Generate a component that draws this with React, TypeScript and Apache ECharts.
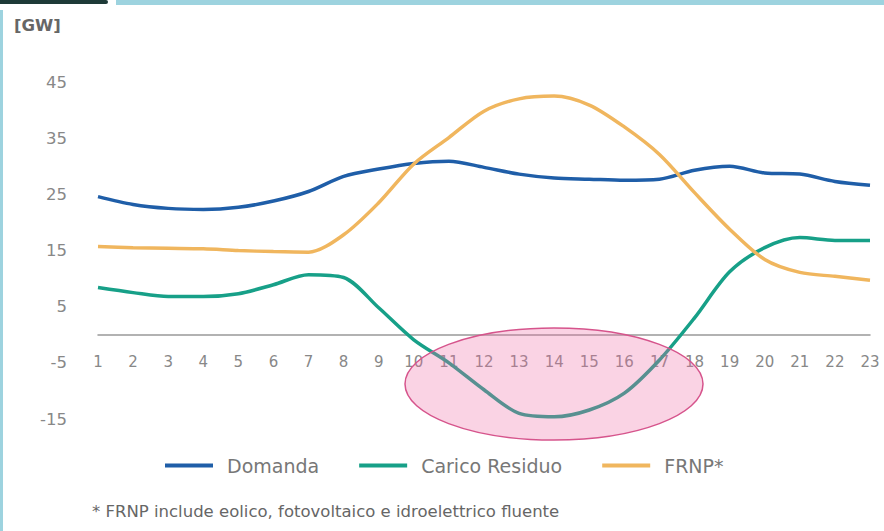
import React, { useEffect, useRef } from "react";
import * as echarts from "echarts";

const hours = ["1","2","3","4","5","6","7","8","9","10","11","12","13","14","15","16","17","18","19","20","21","22","23"];
const domanda = [24.6, 23.2, 22.5, 22.3, 22.7, 23.8, 25.5, 28.2, 29.5, 30.5, 30.9, 29.8, 28.6, 27.9, 27.7, 27.5, 27.7, 29.3, 30.0, 28.8, 28.6, 27.3, 26.6];
const caricoResiduo = [8.4, 7.5, 6.8, 6.8, 7.3, 8.9, 10.7, 10.2, 4.8, -0.9, -5.0, -9.8, -14.0, -14.6, -13.4, -10.4, -4.5, 3.0, 11.2, 15.5, 17.3, 16.8, 16.8];
const frnp = [15.7, 15.5, 15.4, 15.3, 15.0, 14.8, 14.7, 17.8, 23.5, 30.4, 35.1, 39.8, 42.0, 42.5, 40.9, 37.0, 32.1, 25.3, 18.8, 13.4, 11.1, 10.4, 9.7];
const seriesNames = ["Domanda", "Carico Residuo", "FRNP*"];
const unitLabel = "[GW]";
const footnote = "* FRNP include eolico, fotovoltaico e idroelettrico fluente";

const FONT = "'DejaVu Sans', sans-serif";

export default function App() {
  const ref = useRef<HTMLDivElement>(null);
  useEffect(() => {
    if (!ref.current) return;
    const chart = echarts.init(ref.current, null, { renderer: "svg" });
    chart.setOption({
      animation: false,
      backgroundColor: "#ffffff",
      textStyle: { fontFamily: FONT },
      grid: { left: 98, right: 14, top: 82, bottom: 112, containLabel: false },
      legend: {
        data: seriesNames,
        left: 160,
        top: 451,
        itemWidth: 48,
        itemHeight: 4,
        itemGap: 40,
        icon: "rect",
        textStyle: { fontSize: 19, color: "#777", fontFamily: FONT, padding: [0, 0, 0, 9] },
      },
      xAxis: {
        type: "category",
        data: hours,
        boundaryGap: false,
        offset: -84,
        axisLine: { onZero: false, lineStyle: { color: "#999", width: 1.5 } },
        axisTick: { show: false },
        axisLabel: { color: "#888", fontSize: 15, margin: 19, interval: 0, fontFamily: FONT },
        splitLine: { show: false },
      },
      yAxis: {
        type: "value",
        min: -15,
        max: 45,
        interval: 10,
        axisLine: { show: false },
        axisTick: { show: false },
        splitLine: { show: false },
        axisLabel: { color: "#888", fontSize: 16.5, margin: 31, fontFamily: FONT },
      },
      series: [
        { name: seriesNames[0], type: "line", data: domanda, smooth: 0.3, symbol: "none", lineStyle: { color: "#1f5ea8", width: 3.5 }, itemStyle: { color: "#1f5ea8" } },
        { name: seriesNames[1], type: "line", data: caricoResiduo, smooth: 0.3, symbol: "none", lineStyle: { color: "#17a088", width: 3.5 }, itemStyle: { color: "#17a088" } },
        { name: seriesNames[2], type: "line", data: frnp, smooth: 0.3, symbol: "none", lineStyle: { color: "#f0b65e", width: 3.5 }, itemStyle: { color: "#f0b65e" } },
      ],
      graphic: [
        { type: "ellipse", shape: { cx: 554, cy: 384, rx: 149, ry: 56 }, z: 100, style: { fill: "rgba(238,110,165,0.30)", stroke: "#d6548c", lineWidth: 1.5 } },
        { type: "text", left: 14, top: 17, style: { text: unitLabel, fontSize: 16.5, fontWeight: "bold", fill: "#666", fontFamily: FONT } },
        { type: "text", left: 92, top: 503, style: { text: footnote, fontSize: 16.5, fill: "#666", fontFamily: FONT } },
        { type: "rect", shape: { x: 0, y: 0, width: 108, height: 4, r: [0, 4, 4, 0] }, style: { fill: "#1e3a38" } },
        { type: "rect", shape: { x: 116, y: 0, width: 768, height: 5 }, style: { fill: "#9dd3df" } },
        { type: "rect", shape: { x: 0, y: 10, width: 3, height: 521 }, style: { fill: "#9dd3df" } },
      ],
    });
    return () => chart.dispose();
  }, []);
  return <div ref={ref} style={{ position: "fixed", left: 0, top: 0, width: 884, height: 531 }} />;
}
